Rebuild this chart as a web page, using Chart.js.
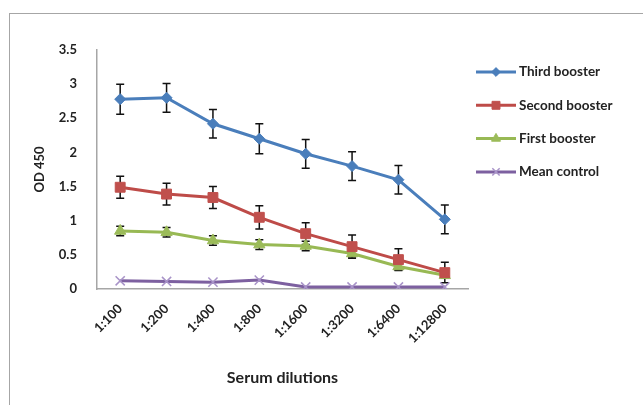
<!DOCTYPE html>
<html>
<head>
<meta charset="utf-8">
<script src="https://cdn.jsdelivr.net/npm/chart.js@4.4.1/dist/chart.umd.min.js"></script>
<style>
  html, body { margin: 0; padding: 0; background: #fff; }
  #wrap { position: relative; width: 643px; height: 405px; overflow: hidden; }
  #frame { position: absolute; left: 9px; top: 13px; width: 700px; height: 500px; border: 1px solid #a6a6a6; }
  #chart { position: absolute; left: 0; top: 0; }
</style>
</head>
<body>
<div id="wrap">
  <div id="frame"></div>
  <canvas id="chart" width="643" height="405"></canvas>
</div>
<script>
// ---------- Data ----------
const dilutions = ["1:100", "1:200", "1:400", "1:800", "1:1600", "1:3200", "1:6400", "1:12800"];
const yTicks = [0, 0.5, 1, 1.5, 2, 2.5, 3, 3.5];

const thirdBooster = [2.78, 2.80, 2.42, 2.20, 1.98, 1.80, 1.60, 1.02];
const thirdErr     = [0.22, 0.21, 0.21, 0.22, 0.21, 0.21, 0.21, 0.21];
const secondBooster = [1.49, 1.39, 1.34, 1.05, 0.81, 0.62, 0.43, 0.24];
const secondErr     = [0.16, 0.16, 0.16, 0.17, 0.16, 0.17, 0.16, 0.15];
const firstBooster = [0.85, 0.83, 0.71, 0.65, 0.63, 0.52, 0.33, 0.20];
const firstErr     = [0.07, 0.07, 0.07, 0.07, 0.07, 0.05, 0.05, 0.04];
const meanControl = [0.12, 0.11, 0.10, 0.13, 0.03, 0.03, 0.03, 0.03];

const FONT = "Lato, 'Open Sans', sans-serif";

// ---------- Error bars (drawn under the lines) ----------
const errorBars = {
  id: "errorBars",
  beforeDatasetsDraw(chart) {
    const ctx = chart.ctx;
    const x = chart.scales.x, y = chart.scales.y;
    ctx.save();
    ctx.strokeStyle = "#111";
    ctx.lineWidth = 1.5;
    chart.data.datasets.forEach((ds) => {
      if (!ds.errors) return;
      ds.data.forEach((v, i) => {
        const px = x.getPixelForValue(i);
        const top = y.getPixelForValue(v + ds.errors[i]);
        const bot = y.getPixelForValue(v - ds.errors[i]);
        ctx.beginPath();
        ctx.moveTo(px, top); ctx.lineTo(px, bot);
        ctx.moveTo(px - 4, top); ctx.lineTo(px + 4, top);
        ctx.moveTo(px - 4, bot); ctx.lineTo(px + 4, bot);
        ctx.stroke();
      });
    });
    ctx.restore();
  }
};

// ---------- Legend: line + marker + label ----------
const sideLegend = {
  id: "sideLegend",
  afterDraw(chart, args, opts) {
    const ctx = chart.ctx;
    ctx.save();
    chart.data.datasets.forEach((ds, i) => {
      const yy = opts.top + i * opts.step;
      ctx.strokeStyle = ds.borderColor;
      ctx.lineWidth = 3;
      ctx.beginPath();
      ctx.moveTo(opts.left, yy);
      ctx.lineTo(opts.left + opts.lineLen, yy);
      ctx.stroke();
      ctx.fillStyle = ds.pointBackgroundColor;
      ctx.strokeStyle = ds.pointBorderColor;
      ctx.lineWidth = ds.pointBorderWidth;
      Chart.helpers.drawPoint(ctx, { pointStyle: ds.pointStyle, radius: ds.pointRadius * 0.8, rotation: 0, borderWidth: ds.pointBorderWidth }, opts.left + opts.lineLen / 2, yy);
      ctx.fillStyle = "#222";
      ctx.font = "bold 13.5px " + FONT;
      ctx.textBaseline = "middle";
      ctx.fillText(ds.label, opts.left + opts.lineLen + 3, yy);
    });
    ctx.restore();
  }
};

function series(label, data, errors, color, style, radius, pointFill, pointBorder, pointBw) {
  return {
    label: label,
    data: data,
    errors: errors,
    borderColor: color,
    backgroundColor: color,
    borderWidth: 3,
    pointStyle: style,
    pointRadius: radius,
    pointHoverRadius: radius,
    pointBackgroundColor: pointFill,
    pointBorderColor: pointBorder,
    pointBorderWidth: pointBw,
    tension: 0
  };
}

new Chart(document.getElementById("chart"), {
  type: "line",
  data: {
    labels: dilutions,
    datasets: [
      series("Third booster", thirdBooster, thirdErr, "#4a7ebb", "rectRot", 5.5, "#4a7ebb", "#4a7ebb", 1),
      series("Second booster", secondBooster, secondErr, "#be4b48", "rect", 7, "#c0504d", "#c0504d", 1),
      series("First booster", firstBooster, firstErr, "#98b954", "triangle", 6.5, "#9bbb59", "#9bbb59", 1),
      series("Mean control", meanControl, null, "#7d60a0", "crossRot", 6.5, "#a893c8", "#a893c8", 1.5)
    ]
  },
  options: {
    responsive: false,
    animation: false,
    layout: { padding: { left: 32, top: 50, right: 175, bottom: 18 } },
    plugins: {
      legend: { display: false },
      tooltip: { enabled: false },
      sideLegend: { left: 476, top: 72, step: 33.3, lineLen: 40 }
    },
    scales: {
      x: {
        offset: true,
        grid: { display: false },
        border: { display: true, color: "#a6a6a6", width: 1.5 },
        ticks: { minRotation: 45, maxRotation: 45, color: "#222", font: { family: FONT, size: 13, weight: "bold" }, padding: 4 },
        title: { display: true, text: "Serum dilutions", color: "#222", font: { family: FONT, size: 16, weight: "bold" }, padding: { top: 0, bottom: 0 } },
        afterFit(s) { s.height = 98; }
      },
      y: {
        min: 0,
        max: 3.5,
        afterBuildTicks(s) { s.ticks = yTicks.map(v => ({ value: v })); },
        grid: { display: false },
        border: { display: true, color: "#a6a6a6", width: 1.5 },
        ticks: { color: "#222", font: { family: FONT, size: 13, weight: "bold" }, padding: 12, callback: (v) => String(v) },
        title: { display: true, text: "OD 450", color: "#222", font: { family: FONT, size: 13, weight: "bold" }, padding: 0 },
        afterFit(s) { s.width = 65; }
      }
    }
  },
  plugins: [errorBars, sideLegend]
});
</script>
</body>
</html>
